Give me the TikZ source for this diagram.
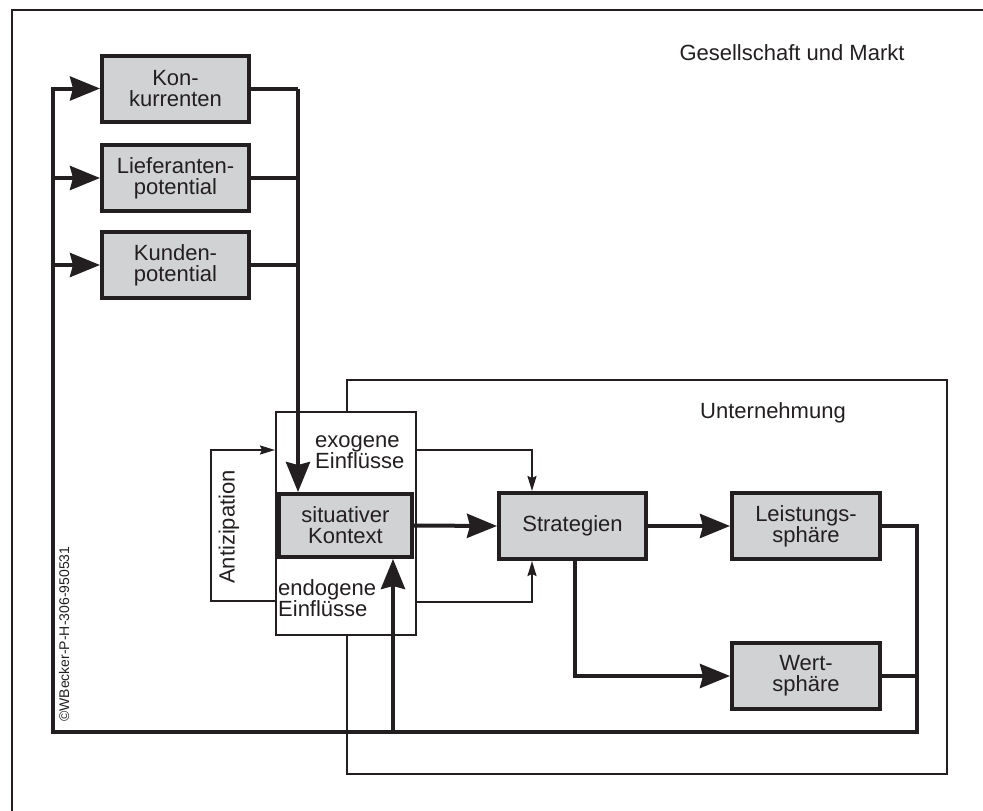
\documentclass[tikz,border=0pt]{standalone}
\usepackage{fontspec}
\setmainfont{Liberation Sans}
\usetikzlibrary{arrows.meta}
\definecolor{ink}{HTML}{231F20}
\definecolor{boxgray}{HTML}{D1D2D4}
\tikzset{
  graybox/.style={draw=ink, fill=boxgray, line width=4pt, inner sep=0pt, align=center,
    minimum width=147pt, minimum height=66pt, font=\fontsize{22}{21}\selectfont, text=ink},
  thinbox/.style={draw=ink, line width=2pt, inner sep=0pt},
  heavy/.style={draw=ink, line width=4pt},
  light/.style={draw=ink, line width=2pt},
  bigarrow/.style={-{Stealth[length=30pt,width=24pt,inset=3pt]}},
  smallarrow/.style={-{Stealth[length=15pt,width=9pt,inset=2pt]}},
  label/.style={font=\fontsize{22}{21}\selectfont, text=ink, inner sep=0pt, align=left}
}
\begin{document}
\begin{tikzpicture}[x=1pt,y=-1pt]
\useasboundingbox (0,0) rectangle (983,811);
% outer frame (only top and left visible)
\draw[light] (12,811) -- (12,10) -- (983,10);
\node[label] (gm) at (792,53) {Gesellschaft und Markt};

% Unternehmung frame
\node[thinbox, minimum width=600pt, minimum height=394pt] (untern) at (647,577) {};
\node[label] (ut) at (773,413) {Unternehmung};

% market boxes
\node[graybox] (konk) at (175.5,88.5) {Kon-\\kurrenten};
\node[graybox] (lief) at (175.5,178) {Lieferanten-\\potential};
\node[graybox] (kund) at (175.5,265) {Kunden-\\potential};

% influence column
\node[thinbox, fill=white, minimum width=140pt, minimum height=223pt] (einfl) at (346,523.5) {};
\node[graybox, minimum width=133pt, minimum height=63pt] (sit) at (345.5,525.5) {situativer\\Kontext};
\node[label, anchor=west] (exot) at (315,452) {exogene\\Einflüsse};
\node[label, anchor=west] (endot) at (278,598) {endogene\\Einflüsse};

% enterprise boxes
\node[graybox] (strat) at (572.5,526) {Strategien};
\node[graybox, minimum width=148pt] (leist) at (806,526) {Leistungs-\\sphäre};
\node[graybox, minimum width=148pt] (wert) at (806,676) {Wert-\\sphäre};

% rotated texts
\node[label, rotate=90] (anti) at (229,527) {Antizipation};
\node[font=\fontsize{14}{14}\selectfont, text=ink, rotate=90, anchor=west, inner sep=0pt] (copy) at (64,722) {©WBecker-P-H-306-950531};

% coordinates
\coordinate (kr) at (298,88.5);
\coordinate (rb) at (917,732);
\coordinate (lb) at (53,732);
\coordinate (up) at (393,732);
\coordinate (sd) at (575,676);
\coordinate (exo) at (532,450);
\coordinate (endo) at (532,602);
\coordinate (a1) at (211,601);
\coordinate (a2) at (211,450);

% market feed to situativer Kontext
\draw[heavy] (konk.east) -- (kr);
\draw[heavy] (lief.east) -- (lief.east -| kr);
\draw[heavy] (kund.east) -- (kund.east -| kr);
\draw[heavy, bigarrow] (kr) -- (kr |- sit.north);

% feedback loop
\draw[heavy, bigarrow] (leist.east) -| (rb) -- (lb) |- (konk.west);
\draw[heavy] (wert.east) -- (wert.east -| rb);
\draw[heavy, bigarrow] (lief.west -| lb) -- (lief.west);
\draw[heavy, bigarrow] (kund.west -| lb) -- (kund.west);
\draw[heavy, bigarrow] (up) -- (up |- sit.south);

% main flow
\draw[heavy, bigarrow] (sit.east) -- (strat.west);
\draw[heavy, bigarrow] (strat.east) -- (leist.west);
\draw[heavy, bigarrow] (sd |- strat.south) |- (wert.west);

% thin influences
\draw[light, smallarrow] (einfl.east |- exo) -- (exo) -- (exo |- strat.north);
\draw[light, smallarrow] (einfl.east |- endo) -- (endo) -- (endo |- strat.south);
\draw[light, smallarrow] (einfl.west |- a1) -- (a1) -- (a2) -- (einfl.west |- a2);
\end{tikzpicture}
\end{document}
